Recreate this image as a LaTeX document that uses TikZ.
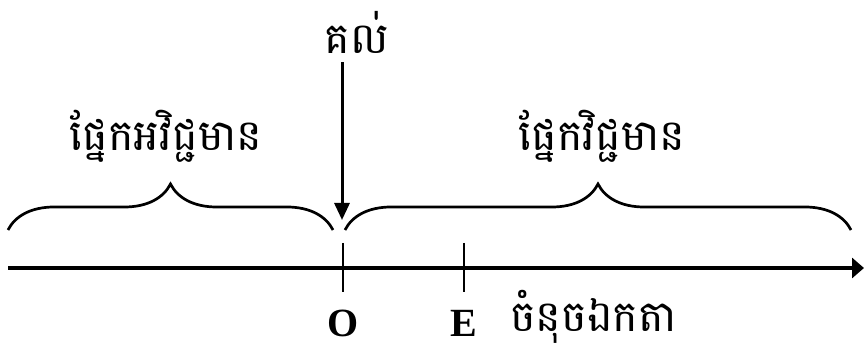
\documentclass[tikz,border=0pt]{standalone}
\usepackage{fontspec}
\setmainfont{Liberation Serif}
\newfontfamily\khmerfont[Script=Khmer]{Battambang}
\usetikzlibrary{decorations.pathreplacing,arrows.meta}

\begin{document}
\begin{tikzpicture}[x=1pt,y=-1pt,
  khm/.style={font=\khmerfont\fontsize{43}{50}\selectfont,inner sep=0pt},
  lett/.style={font=\bfseries\fontsize{40}{44}\selectfont,inner sep=0pt},
  curly/.style={decorate,decoration={brace,amplitude=46pt},line width=2.7pt}]
  \useasboundingbox (0,0) rectangle (864,352);
  % number line
  \coordinate (west) at (8,268);
  \coordinate (east) at (864,268);
  \draw[-{Triangle[length=12pt,width=20pt]},line width=4.5pt] (west) -- (east);
  \foreach \x/\lab/\nm in {343/O/o,464/E/e} {
    \draw[line width=1.5pt] (\x,243) -- (\x,292);
    \node[lett,anchor=base] (\nm) at (\x,336) {\lab};
  }
  \node[khm,anchor=base west] (unit) at (510,331) {ចំនុចឯកតា};
  % braces
  \coordinate (negl) at (8,230);
  \coordinate (negr) at (333,230);
  \coordinate (posl) at (345,230);
  \coordinate (posr) at (851,230);
  \draw[curly] (negl) -- (negr);
  \draw[curly] (posl) -- (posr);
  \node[khm,anchor=base] (neg) at (166,151) {ផ្នែកអវិជ្ជមាន};
  \node[khm,anchor=base] (pos) at (602,151) {ផ្នែកវិជ្ជមាន};
  % origin
  \node[khm,anchor=base] (root) at (357,54) {គល់};
  \coordinate (tip) at (342,220);
  \draw[-{Triangle[length=17pt,width=15pt]},line width=3pt,shorten <=8pt] (root.south -| tip) -- (tip);
\end{tikzpicture}
\end{document}
